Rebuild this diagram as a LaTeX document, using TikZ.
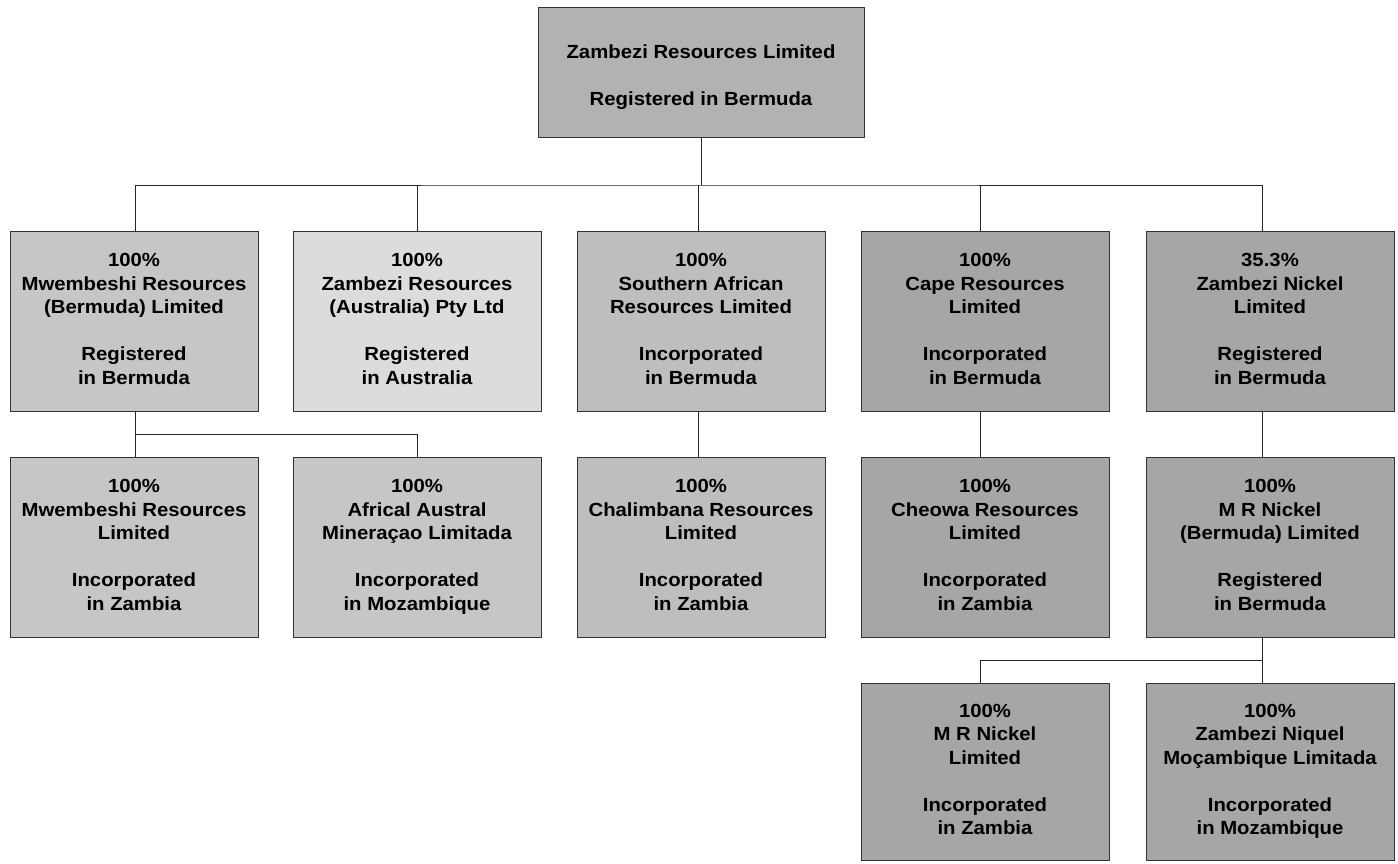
\documentclass[tikz,border=0pt]{standalone}
\usepackage{fontspec}
\setmainfont{Liberation Sans}[FakeStretch=1.07]
\definecolor{gtop}{HTML}{B2B2B2}
\definecolor{gmw}{HTML}{C6C6C6}
\definecolor{gau}{HTML}{DCDCDC}
\definecolor{gsa}{HTML}{BEBEBE}
\definecolor{gcape}{HTML}{A6A6A6}
\newcommand{\bxs}{\strut}
\tikzset{
  orgbox/.style={draw=black!80, line width=0.8pt, minimum width=248pt, minimum height=180pt,
    inner sep=0pt, align=center, font=\bfseries\fontsize{19}{23.5}\selectfont},
  link/.style={draw=black!85, line width=0.8pt}
}
\begin{document}
\begin{tikzpicture}[x=1pt,y=-1pt]
\useasboundingbox (0,0) rectangle (1398,863);
\fill[white] (0,0) rectangle (1398,863);
% top
\node[orgbox, fill=gtop, minimum width=326pt, minimum height=130pt] (top) at (701,72)
  {\rule{0pt}{28pt}Zambezi Resources Limited\\[23.5pt]Registered in Bermuda\bxs};
% row 1
\node[orgbox, fill=gmw] (c1) at (134,321)
  {\bxs 100\%\\Mwembeshi Resources\\(Bermuda) Limited\\[23.5pt]Registered\\in Bermuda\bxs};
\node[orgbox, fill=gau] (c2) at (417,321)
  {\bxs 100\%\\Zambezi Resources\\(Australia) Pty Ltd\\[23.5pt]Registered\\in Australia\bxs};
\node[orgbox, fill=gsa] (c3) at (701,321)
  {\bxs 100\%\\Southern African\\Resources Limited\\[23.5pt]Incorporated\\in Bermuda\bxs};
\node[orgbox, fill=gcape] (c4) at (985,321)
  {\bxs 100\%\\Cape Resources\\Limited\\[23.5pt]Incorporated\\in Bermuda\bxs};
\node[orgbox, fill=gcape] (c5) at (1270,321)
  {\bxs 35.3\%\\Zambezi Nickel\\Limited\\[23.5pt]Registered\\in Bermuda\bxs};
% row 2
\node[orgbox, fill=gmw] (d1) at (134,547)
  {\bxs 100\%\\Mwembeshi Resources\\Limited\\[23.5pt]Incorporated\\in Zambia\bxs};
\node[orgbox, fill=gmw] (d2) at (417,547)
  {\bxs 100\%\\Africal Austral\\Mineraçao Limitada\\[23.5pt]Incorporated\\in Mozambique\bxs};
\node[orgbox, fill=gsa] (d3) at (701,547)
  {\bxs 100\%\\Chalimbana Resources\\Limited\\[23.5pt]Incorporated\\in Zambia\bxs};
\node[orgbox, fill=gcape] (d4) at (985,547)
  {\bxs 100\%\\Cheowa Resources\\Limited\\[23.5pt]Incorporated\\in Zambia\bxs};
\node[orgbox, fill=gcape] (d5) at (1270,547)
  {\bxs 100\%\\M R Nickel\\(Bermuda) Limited\\[23.5pt]Registered\\in Bermuda\bxs};
% row 3
\node[orgbox, fill=gcape, minimum height=177pt] (e1) at (985,771.5)
  {\bxs 100\%\\M R Nickel\\Limited\\[23.5pt]Incorporated\\in Zambia\bxs};
\node[orgbox, fill=gcape, minimum height=177pt] (e2) at (1270,771.5)
  {\bxs 100\%\\Zambezi Niquel\\Moçambique Limitada\\[23.5pt]Incorporated\\in Mozambique\bxs};
% connectors
\coordinate (bus) at (701,185);
\coordinate (sub1) at (135,434);
\coordinate (sub5) at (1262,660);
\draw[link] (top.south) -- (bus);
\draw[link] ([xshift=1pt]c1.north) |- (bus) -| ([xshift=-8pt]c5.north);
\draw[link] (c2.north) -- (c2.north |- bus);
\draw[link] ([xshift=-3pt]c3.north) -- ([xshift=-3pt]c3.north |- bus);
\draw[link] ([xshift=-5pt]c4.north) -- ([xshift=-5pt]c4.north |- bus);
\draw[link] ([xshift=1pt]c1.south) -- ([xshift=1pt]d1.north);
\draw[link] (sub1) -| (d2.north);
\draw[link] ([xshift=-3pt]c3.south) -- ([xshift=-3pt]d3.north);
\draw[link] ([xshift=-5pt]c4.south) -- ([xshift=-5pt]d4.north);
\draw[link] ([xshift=-8pt]c5.south) -- ([xshift=-8pt]d5.north);
\draw[link] ([xshift=-8pt]d5.south) -- ([xshift=-8pt]e2.north);
\draw[link] (sub5) -| ([xshift=-5pt]e1.north);
\end{tikzpicture}
\end{document}
